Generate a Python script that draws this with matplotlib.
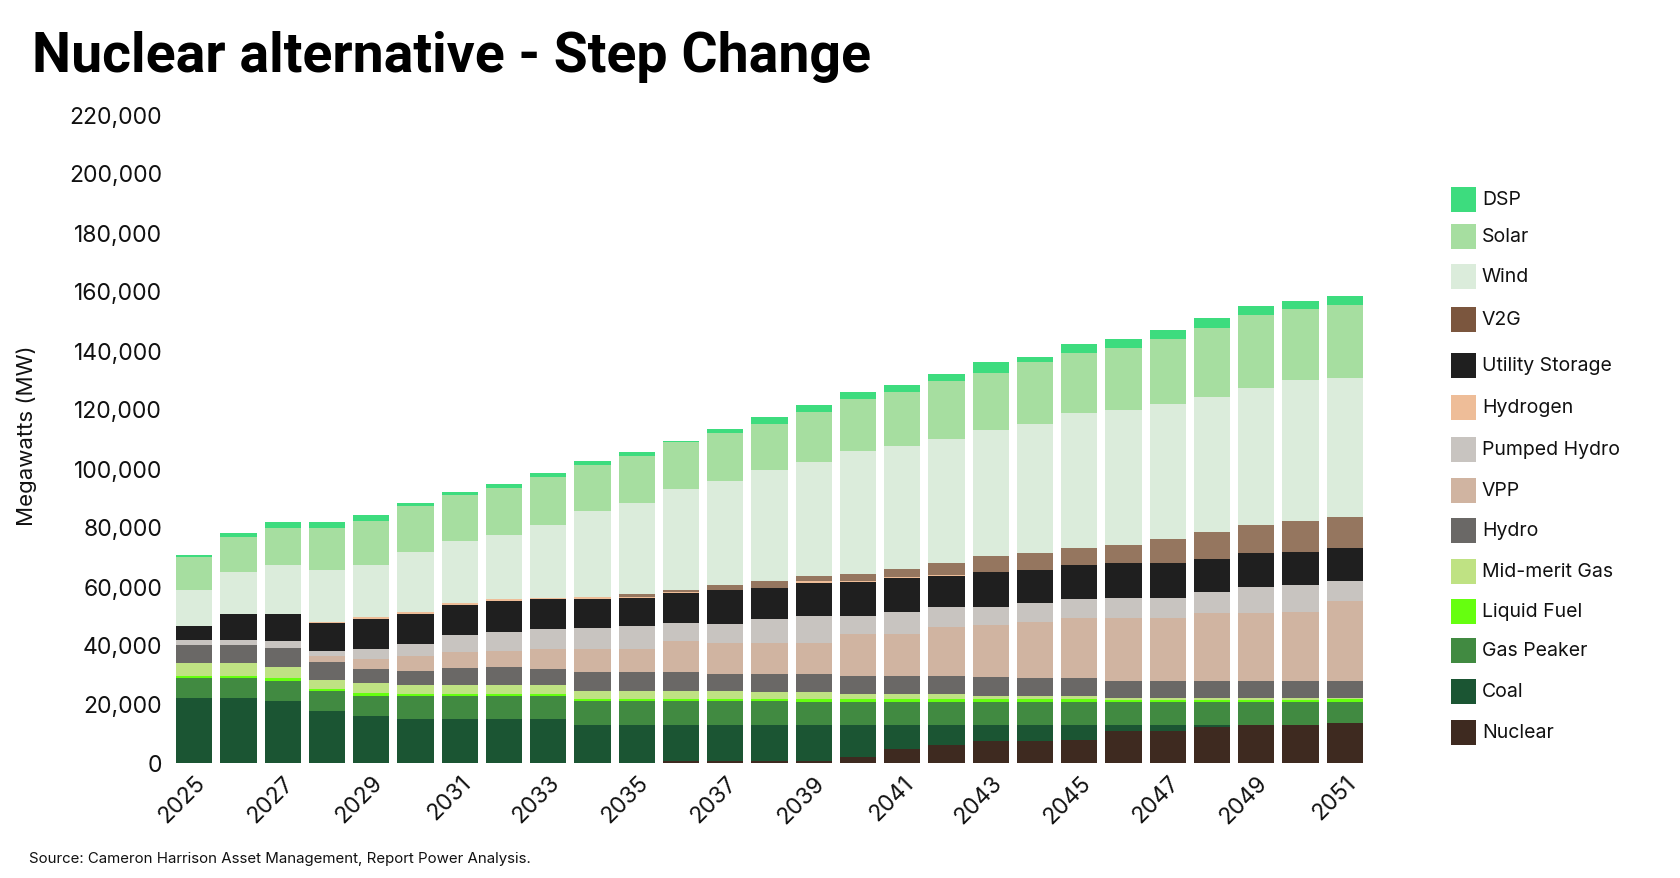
import matplotlib
matplotlib.use("Agg")
import matplotlib.pyplot as plt
from matplotlib import font_manager as fm
from matplotlib.patches import Rectangle
import numpy as np

years = list(range(2025, 2052))

nuclear = [0, 0, 0, 0, 0, 0, 0, 0, 0, 0, 0, 800, 800, 800, 800, 1900, 4700, 6100, 7300, 7300, 7800, 11000, 11000, 12300, 12900, 12900, 13400]
coal = [22100, 22100, 21000, 17600, 15900, 14800, 14800, 14800, 14800, 13000, 13000, 12200, 12200, 12200, 12100, 11000, 8200, 6800, 5600, 5600, 5100, 1900, 1900, 600, 0, 0, 0]
gas_peaker = [6800, 6800, 6800, 6800, 6800, 7900, 7900, 7900, 7900, 7900, 7900, 7900, 7900, 7900, 7900, 7900, 7900, 7900, 7900, 7900, 7900, 7700, 7700, 7700, 7700, 7700, 7400]
liquid_fuel = [700, 700, 1100, 600, 1100, 600, 600, 600, 600, 700, 700, 700, 700, 700, 900, 900, 900, 900, 1000, 1000, 1000, 900, 900, 900, 900, 900, 800]
mid_merit_gas = [4300, 4300, 3800, 3200, 3300, 3100, 3100, 3100, 3100, 2900, 2900, 2900, 2900, 2600, 2300, 1600, 1600, 1600, 1000, 800, 800, 400, 400, 400, 400, 400, 400]
hydro = [6100, 6100, 6300, 6100, 4800, 4900, 5700, 6100, 5600, 6200, 6200, 6200, 5800, 6100, 6200, 6200, 6200, 6200, 6200, 6200, 6200, 5800, 5800, 5800, 5800, 5800, 5800]
vpp = [0, 0, 0, 2100, 3400, 5100, 5400, 5600, 6600, 7900, 7900, 10500, 10500, 10300, 10500, 14100, 14100, 16700, 17800, 19100, 20500, 21600, 21600, 23000, 23000, 23400, 27000]
pumped_hydro = [1800, 1800, 2400, 1500, 3300, 3800, 6000, 6400, 6900, 7000, 7700, 6400, 6200, 8200, 9200, 6200, 7600, 6700, 6200, 6300, 6300, 6700, 6700, 7400, 9100, 9200, 7000]
utility_storage = [4500, 8700, 9100, 9600, 10200, 10300, 10100, 10400, 10000, 10000, 9700, 9900, 11600, 10400, 11100, 11700, 11500, 10500, 11600, 11200, 11600, 11800, 11800, 11100, 11300, 11300, 11200]
hydrogen = [0, 0, 0, 300, 600, 600, 500, 600, 500, 600, 300, 400, 200, 200, 600, 200, 200, 200, 0, 0, 0, 0, 0, 0, 0, 0, 0]
v2g = [0, 0, 0, 0, 0, 0, 0, 0, 0, 0, 1000, 600, 1500, 2300, 1900, 2400, 3000, 4100, 5700, 5700, 5700, 6200, 8100, 9200, 9700, 10500, 10400]
wind = [12300, 14400, 16600, 17600, 17700, 20500, 21300, 21800, 24800, 29100, 30900, 34300, 35400, 37700, 38400, 41600, 41600, 42000, 42700, 43700, 45600, 45800, 45800, 45800, 46200, 47700, 47000]
solar = [11100, 11600, 12400, 14100, 15000, 15400, 15300, 16000, 16000, 15800, 16000, 15900, 16100, 15400, 17200, 17600, 18300, 19800, 19100, 21000, 20500, 20900, 22000, 23100, 25000, 24100, 24700]
dsp = [700, 1400, 2100, 2100, 1900, 1100, 1200, 1200, 1400, 1300, 1300, 600, 1300, 2500, 2300, 2500, 2500, 2500, 3700, 1800, 3000, 3000, 3100, 3400, 2800, 2800, 3100]

# stacking order, bottom to top
stack = [
    ("Nuclear", nuclear, "#3e2a20"),
    ("Coal", coal, "#1b5533"),
    ("Gas Peaker", gas_peaker, "#418a41"),
    ("Liquid Fuel", liquid_fuel, "#66ff0f"),
    ("Mid-merit Gas", mid_merit_gas, "#bfe283"),
    ("Hydro", hydro, "#6a6866"),
    ("VPP", vpp, "#d0b4a1"),
    ("Pumped Hydro", pumped_hydro, "#c8c4c0"),
    ("Utility Storage", utility_storage, "#1f1f1f"),
    ("Hydrogen", hydrogen, "#eebd98"),
    ("V2G", v2g, "#95765f"),
    ("Wind", wind, "#dbecdb"),
    ("Solar", solar, "#a6dea0"),
    ("DSP", dsp, "#3ddc7e"),
]

legend_order = ["DSP", "Solar", "Wind", "V2G", "Utility Storage", "Hydrogen", "Pumped Hydro",
                "VPP", "Hydro", "Mid-merit Gas", "Liquid Fuel", "Gas Peaker", "Coal", "Nuclear"]
legend_colors = {"V2G": "#7b563e"}

yticks = list(range(0, 220001, 20000))
xtick_years = list(range(2025, 2052, 2))

names = {f.name for f in fm.fontManager.ttflist}
body_font = "Inter" if "Inter" in names else "DejaVu Sans"
if "Liberation Sans Narrow" in names:
    title_font = "Liberation Sans Narrow"
elif "Roboto" in names:
    title_font = "Roboto"
else:
    title_font = "DejaVu Sans"

W, H = 1680, 879
fig = plt.figure(figsize=(W / 100, H / 100), dpi=100)
fig.patch.set_facecolor("white")

ax_left, ax_right = 172, 1367
ax_top, ax_bottom = 115, 764
ax = fig.add_axes([ax_left / W, 1 - ax_bottom / H, (ax_right - ax_left) / W, (ax_bottom - ax_top) / H])

x = np.arange(len(years))
bottom = np.zeros(len(years))
for name, vals, col in stack:
    v = np.array(vals, dtype=float)
    ax.bar(x, v, bottom=bottom, width=0.82, color=col, linewidth=0)
    bottom += v

ax.set_xlim(-0.5, len(years) - 0.5)
ax.set_ylim(0, 220000)
ax.set_yticks(yticks)
ax.set_yticklabels([f"{t:,}" for t in yticks], fontsize=16.5, family=body_font, color="#111111")
ax.set_xticks([years.index(y) for y in xtick_years])
ax.set_xticklabels([str(y) for y in xtick_years], rotation=45, ha="right", va="top",
                   rotation_mode="anchor", fontsize=16.5, family=body_font, color="#111111")
ax.tick_params(axis="both", length=0)
ax.tick_params(axis="y", pad=7)
ax.tick_params(axis="x", pad=6)
for s in ax.spines.values():
    s.set_visible(False)

fig.text(27 / W, 1 - 436 / H, "Megawatts (MW)", rotation=90, ha="center", va="center",
         fontsize=16, family=body_font, color="#111111")

title = fig.text(32 / W, 1 - 72 / H, "Nuclear alternative - Step Change", ha="left", va="baseline",
                 fontsize=37, fontweight="bold", family=title_font, color="#000000")
fig.canvas.draw()
bb = title.get_window_extent()
target = 838
title.set_fontsize(37 * target / bb.width)

fig.text(29 / W, 1 - 859 / H, "Source: Cameron Harrison Asset Management, Report Power Analysis.",
         ha="left", va="center", fontsize=10.8, family=body_font, color="#111111")

# legend
color_of = {n: c for n, _, c in stack}
centers = [200, 237, 277, 320, 366, 408, 450, 491, 531, 572, 612, 651, 692, 733]
sq = 25
for name, cy in zip(legend_order, centers):
    col = legend_colors.get(name, color_of[name])
    fig.add_artist(Rectangle((1451 / W, 1 - (cy + sq / 2) / H), sq / W, sq / H,
                             transform=fig.transFigure, facecolor=col, edgecolor="none"))
    fig.text(1482 / W, 1 - cy / H, name, ha="left", va="center", fontsize=14,
             family=body_font, color="#111111")

fig.savefig("out.png", dpi=100)
